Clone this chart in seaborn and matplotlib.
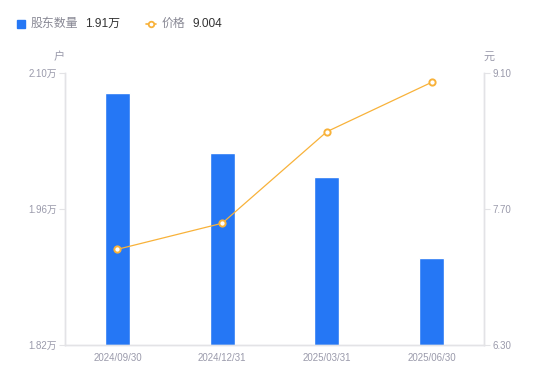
import matplotlib
matplotlib.use("Agg")
import matplotlib.pyplot as plt
import seaborn as sns
import pandas as pd
from matplotlib.lines import Line2D
from matplotlib.patches import Rectangle

dates = ["2024/09/30", "2024/12/31", "2025/03/31", "2025/06/30"]
holders = [2.079, 2.018, 1.993, 1.910]   # 万户
prices = [7.285, 7.553, 8.496, 9.004]    # 元
left_ticks = [1.82, 1.96, 2.10]
right_ticks = [6.30, 7.70, 9.10]

sns.set_theme(style="white")
plt.rcParams['font.family'] = ['Liberation Sans', 'Noto Sans CJK SC', 'DejaVu Sans']

BLUE = "#2577F5"
ORANGE = "#F8B23A"
TICK = "#9a9aab"
AXIS = "#e3e3e6"

df = pd.DataFrame({"date": dates, "holders": holders, "price": prices})

fig = plt.figure(figsize=(5.5, 3.81), dpi=100)
ax = fig.add_axes([65/550, 1-345/381, 419/550, 272/381])
sns.barplot(data=df, x="date", y="holders", color=BLUE, width=25/105,
            saturation=1, ax=ax)
ax.set_ylim(1.82, 2.10)
ax.set_xlim(-0.5, 3.5)
ax.set_yticks(left_ticks)
ax.set_yticklabels([f"{v:.2f}万" for v in left_ticks])
ax.set_xlabel("")
ax.set_ylabel("")

ax2 = ax.twinx()
sns.lineplot(data=df, x="date", y="price", color=ORANGE, sort=False,
             linewidth=0.9, marker="o", markersize=4.5, markerfacecolor="white",
             markeredgecolor=ORANGE, markeredgewidth=1.4, ax=ax2)
ax2.set_ylim(6.30, 9.10)
ax2.set_yticks(right_ticks)
ax2.set_yticklabels([f"{v:.2f}" for v in right_ticks])
ax2.set_xlabel("")
ax2.set_ylabel("")
ax2.set_xlim(-0.5, 3.5)

for a in (ax, ax2):
    a.spines["top"].set_visible(False)
    for s in ("left", "right", "bottom"):
        a.spines[s].set_color(AXIS)
        a.spines[s].set_linewidth(1.0)
    a.grid(False)

ax.tick_params(axis="y", which="both", left=True, length=4, width=0.8,
               color=AXIS, labelcolor=TICK, labelsize=7, pad=2)
ax.tick_params(axis="x", bottom=False, length=0, labelcolor=TICK, labelsize=7, pad=6)
ax2.tick_params(axis="y", right=True, length=4, width=0.8, color=AXIS,
                labelcolor=TICK, labelsize=7, pad=2)

# unit labels
fig.text(59/550, 1-57/381, "户", color=TICK, fontsize=8, ha="center", va="center")
fig.text(489/550, 1-57/381, "元", color=TICK, fontsize=8, ha="center", va="center")

# legend
fig.patches.append(Rectangle((17/550, 1-28/381), 8/550, 8/381, color=BLUE,
                             transform=fig.transFigure, figure=fig))
fig.text(31/550, 1-24/381, "股东数量", color="#888894", fontsize=8.6, va="center")
fig.text(85/550, 1-24/381, f"{holders[-1]:.2f}万", color="#333333", fontsize=8.6, va="center")
fig.add_artist(Line2D([145.5/550, 156/550], [1-24/381, 1-24/381], color=ORANGE,
                      lw=1.2, transform=fig.transFigure))
fig.add_artist(Line2D([151/550], [1-24/381], marker="o", markersize=4,
                      markerfacecolor="white", markeredgecolor=ORANGE,
                      markeredgewidth=1.3, transform=fig.transFigure))
fig.text(162/550, 1-24/381, "价格", color="#888894", fontsize=8.6, va="center")
fig.text(192/550, 1-24/381, f"{prices[-1]:.3f}", color="#333333", fontsize=8.6, va="center")

fig.savefig("out.png", dpi=100)
